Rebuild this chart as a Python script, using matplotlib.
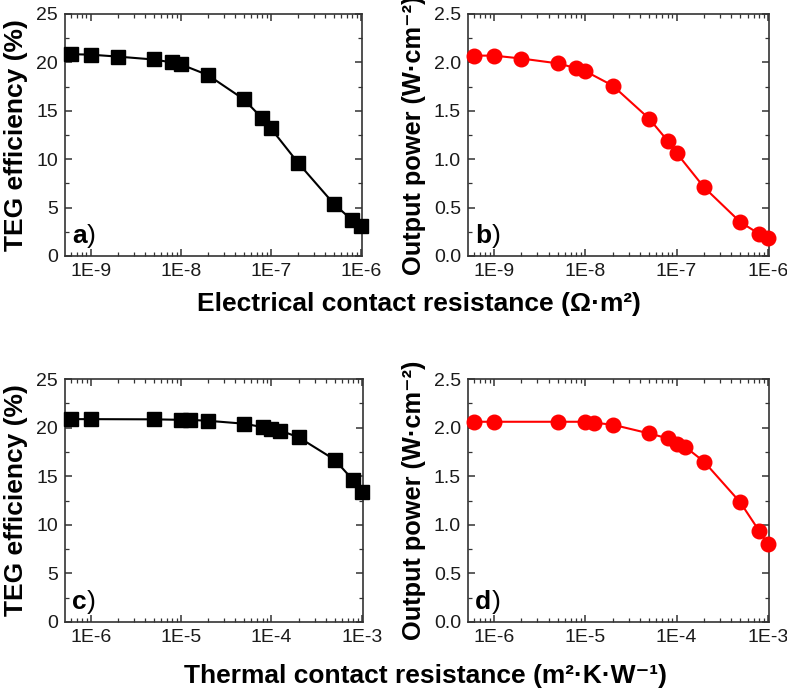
import numpy as np
import matplotlib
matplotlib.use("Agg")
import matplotlib.pyplot as plt
from matplotlib.ticker import LogLocator, FuncFormatter, MultipleLocator, NullFormatter

plt.rcParams['font.family'] = ['Liberation Sans', 'DejaVu Sans']

# Electrical contact resistance (Ohm m^2)
elec_r = [6e-10, 1e-9, 2e-9, 5e-9, 8e-9, 1e-8, 2e-8, 5e-8, 8e-8, 1e-7, 2e-7, 5e-7, 8e-7, 1e-6]
elec_eff = [20.85, 20.8, 20.6, 20.3, 20.0, 19.8, 18.7, 16.2, 14.25, 13.2, 9.65, 5.4, 3.7, 3.05]
elec_pow = [2.07, 2.07, 2.04, 1.99, 1.94, 1.91, 1.76, 1.42, 1.19, 1.065, 0.71, 0.35, 0.23, 0.185]

# Thermal contact resistance (m^2 K / W)
therm_r = [6e-7, 1e-6, 5e-6, 1e-5, 1.25e-5, 2e-5, 5e-5, 8e-5, 1e-4, 1.25e-4, 2e-4, 5e-4, 8e-4, 1e-3]
therm_eff = [20.87, 20.87, 20.85, 20.8, 20.8, 20.7, 20.4, 20.05, 19.9, 19.7, 19.0, 16.7, 14.6, 13.35]
therm_pow = [2.06, 2.06, 2.06, 2.06, 2.05, 2.03, 1.94, 1.89, 1.83, 1.80, 1.65, 1.23, 0.94, 0.80]

W, H = 787, 692
fig = plt.figure(figsize=(W / 100, H / 100), dpi=100)

def pos(l, r, t, b):
    return [l / W, 1 - b / H, (r - l) / W, (b - t) / H]

ax_a = fig.add_axes(pos(65, 362, 14, 256))
ax_b = fig.add_axes(pos(468, 769, 14, 256))
ax_c = fig.add_axes(pos(65, 363, 379, 622))
ax_d = fig.add_axes(pos(468, 769, 379, 622))

edge = '#333333'
fmt = FuncFormatter(lambda v, p: "1E%d" % int(round(np.log10(v))))

def style(ax, xlim, ylim, ymaj, ymin):
    ax.set_xscale('log')
    ax.set_xlim(*xlim)
    ax.set_ylim(*ylim)
    ax.xaxis.set_major_locator(LogLocator(base=10, numticks=20))
    ax.xaxis.set_minor_locator(LogLocator(base=10, subs=np.arange(2, 10), numticks=20))
    ax.xaxis.set_major_formatter(fmt)
    ax.xaxis.set_minor_formatter(NullFormatter())
    ax.yaxis.set_major_locator(MultipleLocator(ymaj))
    ax.yaxis.set_minor_locator(MultipleLocator(ymin))
    for s in ax.spines.values():
        s.set_linewidth(1.2)
        s.set_color(edge)
    ax.tick_params(which='both', direction='in', top=True, right=True, color=edge)
    ax.tick_params(which='major', length=5, width=1.1, labelsize=14, pad=5, labelcolor='#1a1a1a')
    ax.tick_params(which='minor', length=3, width=0.9)

def label(ax, letter):
    t = ax.text(0.024, 0.054, letter, transform=ax.transAxes, fontsize=19,
                fontweight='bold', ha='left', va='baseline')
    ax.annotate(")", xy=(1, 0), xycoords=t, fontsize=19, ha='left', va='bottom')

for ax, x, y, c, m, ms in [
    (ax_a, elec_r, elec_eff, 'black', 's', 9.5),
    (ax_b, elec_r, elec_pow, 'red', 'o', 10.5),
    (ax_c, therm_r, therm_eff, 'black', 's', 9.5),
    (ax_d, therm_r, therm_pow, 'red', 'o', 10.5),
]:
    ax.plot(x, y, color=c, marker=m, markersize=ms, linewidth=1.5, clip_on=False, zorder=3)

style(ax_a, (5.2e-10, 1.03e-6), (0, 25), 5, 2.5)
style(ax_b, (5.2e-10, 1.03e-6), (0, 2.5), 0.5, 0.25)
style(ax_c, (5.2e-7, 1.03e-3), (0, 25), 5, 2.5)
style(ax_d, (5.2e-7, 1.03e-3), (0, 2.5), 0.5, 0.25)

for ax in (ax_b, ax_d):
    ax.yaxis.set_major_formatter(FuncFormatter(lambda v, p: "%.1f" % v))

label(ax_a, 'a')
label(ax_b, 'b')
label(ax_c, 'c')
label(ax_d, 'd')

for ax in (ax_a, ax_c):
    ax.set_ylabel('TEG efficiency (%)', fontsize=19, fontweight='bold', labelpad=6)
for ax in (ax_b, ax_d):
    ax.set_ylabel('Output power (W·cm⁻²)', fontsize=18.3, fontweight='bold', labelpad=6)

fig.text(419 / W, 1 - 304 / H, 'Electrical contact resistance (Ω·m²)',
         fontsize=19, fontweight='bold', ha='center', va='center')
fig.text(425 / W, 1 - 676 / H, 'Thermal contact resistance (m²·K·W⁻¹)',
         fontsize=19, fontweight='bold', ha='center', va='center')

fig.savefig('out.png', dpi=100)
